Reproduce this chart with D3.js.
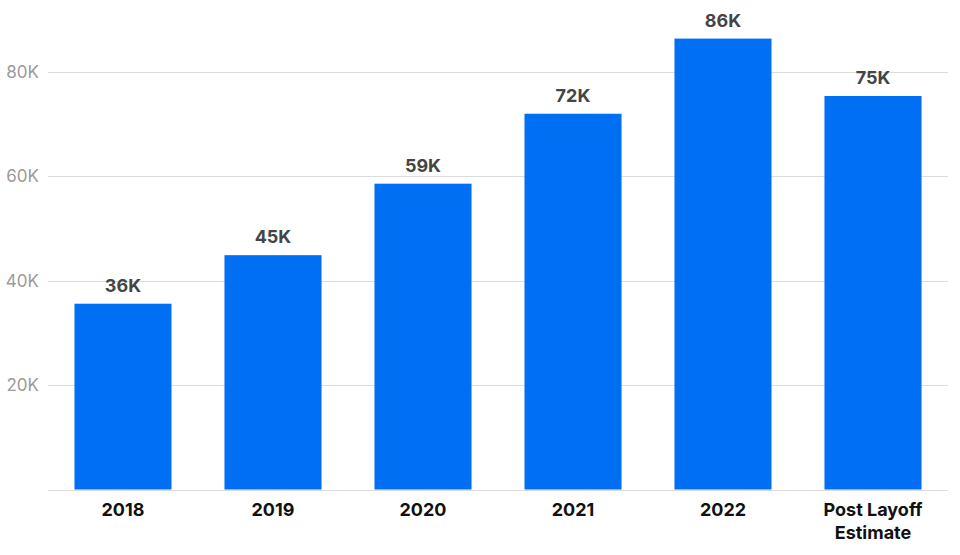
<!DOCTYPE html>
<html><head><meta charset="utf-8">
<script src="https://cdn.jsdelivr.net/npm/d3@7"></script>
<style>body{margin:0;background:#fff}svg{display:block}</style>
</head><body><svg id="c" width="960" height="555"></svg>
<script>
const categories = ["2018","2019","2020","2021","2022","Post Layoff|Estimate"];
const values = [35600, 44900, 58600, 72000, 86400, 75400];
const valueLabels = ["36K","45K","59K","72K","86K","75K"];
const yTicks = [20000, 40000, 60000, 80000];
const yTickLabels = ["20K","40K","60K","80K"];

(function() {
const svg = d3.select("#c");
const mLeft = 48, mRight = 948, mTop = 72, mBottom = 489.5;
const x = d3.scaleBand().domain(categories).range([mLeft, mRight]).paddingInner(0.353).paddingOuter(0.1765);
const y = d3.scaleLinear().domain([0, 80000]).range([mBottom, mTop]);
const font = "Inter, 'Noto Sans', sans-serif";

svg.append("g").selectAll("line").data([0, ...yTicks]).join("line")
  .attr("x1", mLeft).attr("x2", mRight)
  .attr("y1", d => Math.round(y(d)) + 0.5).attr("y2", d => Math.round(y(d)) + 0.5)
  .attr("stroke", "#dcdcdc").attr("stroke-width", 1);

svg.append("g").selectAll("text").data(yTicks).join("text")
  .attr("x", 39).attr("y", d => y(d) + 6)
  .attr("text-anchor", "end").attr("fill", "#9a9a9a")
  .style("font-family", font).style("font-size", "17px")
  .text((d, i) => yTickLabels[i]);

svg.append("g").selectAll("rect").data(values).join("rect")
  .attr("x", (d, i) => x(categories[i])).attr("width", x.bandwidth())
  .attr("y", d => y(d)).attr("height", d => y(0) - y(d))
  .attr("fill", "#006ff3");

svg.append("g").selectAll("text").data(values).join("text")
  .attr("x", (d, i) => x(categories[i]) + x.bandwidth() / 2)
  .attr("y", d => y(d) - 12)
  .attr("text-anchor", "middle").attr("fill", "#454545")
  .style("font-family", font).style("font-size", "18px").style("font-weight", "700")
  .text((d, i) => valueLabels[i]);

const cg = svg.append("g").selectAll("text").data(categories).join("text")
  .attr("x", d => x(d) + x.bandwidth() / 2).attr("y", 516)
  .attr("text-anchor", "middle").attr("fill", "#111")
  .style("font-family", font).style("font-size", "18px").style("font-weight", "700");
cg.each(function(d) {
  const parts = d.split("|");
  const t = d3.select(this);
  parts.forEach((p, i) => {
    t.append("tspan").attr("x", x(d) + x.bandwidth() / 2).attr("dy", i === 0 ? 0 : 23).text(p);
  });
});
})();
</script></body></html>
